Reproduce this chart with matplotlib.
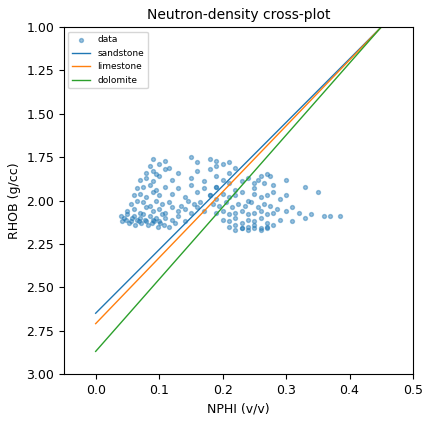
import matplotlib
matplotlib.use("Agg")
import matplotlib.pyplot as plt
plt.rcParams['font.size'] = 9

nphi = [0.04,0.045,0.05,0.055,0.06,0.065,0.07,0.075,0.08,0.085,0.09,0.095,0.10,0.105,0.11,0.12,0.13,0.14,
        0.042,0.048,0.052,0.058,0.062,0.068,0.072,0.078,0.082,0.088,0.092,0.098,0.102,0.108,0.115,0.125,
        0.05,0.06,0.07,0.08,0.09,0.10,0.11,0.12,0.13,0.14,0.15,0.16,0.17,
        0.055,0.065,0.075,0.085,0.095,0.105,0.115,0.135,0.145,0.155,0.165,
        0.06,0.07,0.08,0.09,0.10,0.12,0.14,0.16,0.18,
        0.065,0.075,0.085,0.095,0.11,0.13,0.15,0.17,0.19,
        0.07,0.08,0.09,0.10,0.12,0.15,0.17,0.19,0.20,
        0.08,0.09,0.095,0.11,0.13,0.16,0.18,0.21,
        0.085,0.10,0.115,0.16,0.19,0.20,0.22,
        0.09,0.11,0.15,0.18,0.19,0.21,
        0.18,0.19,0.20,0.21,0.22,0.23,0.24,0.25,0.26,0.27,0.28,0.29,0.30,
        0.185,0.195,0.205,0.215,0.225,0.235,0.245,0.255,0.265,0.275,0.285,0.31,
        0.19,0.20,0.21,0.22,0.23,0.24,0.25,0.26,0.27,0.28,0.30,0.32,
        0.20,0.21,0.22,0.23,0.24,0.25,0.26,0.27,0.29,0.31,0.33,0.34,0.36,0.37,0.385,
        0.21,0.22,0.23,0.24,0.25,0.26,0.27,0.28,
        0.22,0.23,0.24,0.25,0.26,0.27,0.255,0.265,0.275,
        0.19,0.21,0.23,0.25,0.28,0.30,0.33,0.35,0.26,0.24,0.27,0.22,0.25]
rhob = [2.09,2.10,2.08,2.12,2.09,2.11,2.10,2.08,2.12,2.09,2.11,2.10,2.12,2.08,2.10,2.11,2.09,2.12,
        2.12,2.11,2.13,2.10,2.14,2.12,2.13,2.11,2.14,2.13,2.12,2.15,2.13,2.14,2.15,2.13,
        2.06,2.05,2.07,2.04,2.06,2.05,2.07,2.04,2.06,2.05,2.07,2.04,2.06,
        2.02,2.00,2.01,2.03,2.00,2.02,2.01,2.03,2.00,2.02,2.01,
        1.97,1.96,1.98,1.95,1.97,1.96,1.98,1.95,1.97,
        1.93,1.92,1.91,1.94,1.92,1.93,1.91,1.93,1.92,
        1.88,1.87,1.89,1.86,1.88,1.87,1.89,1.86,1.88,
        1.84,1.83,1.85,1.82,1.84,1.83,1.82,1.84,
        1.80,1.79,1.81,1.78,1.80,1.79,1.81,
        1.76,1.77,1.75,1.76,1.77,1.78,
        1.97,1.99,1.96,1.98,1.97,1.95,2.00,1.96,1.98,1.97,1.95,1.99,1.97,
        2.02,2.03,2.01,2.04,2.02,2.03,2.01,2.04,2.02,2.03,2.05,2.04,
        2.07,2.06,2.08,2.07,2.06,2.08,2.07,2.06,2.08,2.07,2.06,2.07,
        2.11,2.12,2.10,2.13,2.11,2.12,2.10,2.13,2.11,2.12,2.10,2.08,2.09,2.09,2.09,
        2.15,2.14,2.16,2.15,2.14,2.16,2.15,2.14,
        2.17,2.16,2.17,2.16,2.17,2.16,1.88,1.90,1.86,
        1.92,1.90,1.89,1.93,1.91,1.88,1.92,1.95,1.86,1.87,1.85,1.94,1.90]

lith_names = ["sandstone", "limestone", "dolomite"]
lith_x = [[0.0, 0.45], [0.0, 0.45], [0.0, 0.45]]
lith_y = [[2.65, 1.0], [2.71, 1.0], [2.87, 1.0]]
colors = ["#1f77b4", "#ff7f0e", "#2ca02c"]

fig, ax = plt.subplots(figsize=(4.32, 4.23), dpi=100)
ax.scatter(nphi, rhob, s=8, alpha=0.45, color="#1f77b4", label="data")
for n, xs, ys, c in zip(lith_names, lith_x, lith_y, colors):
    ax.plot(xs, ys, color=c, lw=1, label=n)
ax.set_xlim(-0.05, 0.5)
ax.set_ylim(3.0, 1.0)
ax.set_xticks([0.0, 0.1, 0.2, 0.3, 0.4, 0.5])
ax.set_yticks([1.0, 1.25, 1.5, 1.75, 2.0, 2.25, 2.5, 2.75, 3.0])
ax.set_xlabel("NPHI (v/v)")
ax.set_ylabel("RHOB (g/cc)")
ax.set_title("Neutron-density cross-plot", fontsize=10)
ax.legend(loc="upper left", fontsize=6.5)
fig.subplots_adjust(left=0.148, right=0.956, top=0.936, bottom=0.116)
fig.savefig("out.png")
